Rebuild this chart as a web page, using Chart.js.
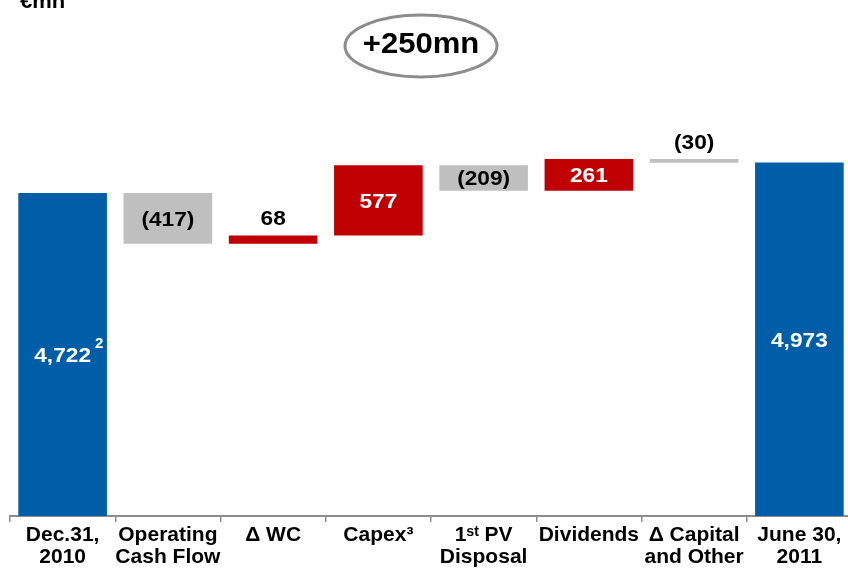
<!DOCTYPE html>
<html>
<head>
<meta charset="utf-8">
<title>Net debt evolution</title>
<script src="https://cdn.jsdelivr.net/npm/chart.js@4/dist/chart.umd.min.js"></script>
<style>
  html, body { margin: 0; padding: 0; overflow: hidden; background: #ffffff; }
  #wrap { width: 852px; height: 572px; }
</style>
</head>
<body>
<div id="wrap"><canvas id="chart" width="852" height="572"></canvas></div>
<script>
// Net debt bridge, €mn
const categories = [
  ["Dec.31,", "2010"],
  ["Operating", "Cash Flow"],
  "Δ WC",
  "Capex³",
  ["1ˢᵗ PV", "Disposal"],
  "Dividends",
  ["Δ Capital", "and Other"],
  ["June 30,", "2011"]
];
const openingNetDebt = 4722;
const closingNetDebt = 4973;
const movements = [-417, 68, 577, -209, 261, -30];
const valueFootnotes = ["2", "", "", "", "", "", "", ""];
const headline = "+250mn";
const unitLabel = "€mn";

const BLUE = "#005EA8";
const RED = "#C00000";
const GREY = "#BFBFBF";
const FONT = "'Liberation Sans', Arial, Helvetica, sans-serif";

const fmt = v => v.toLocaleString("en-US");

// Build floating ranges for the bridge
const ranges = [[0, openingNetDebt]];
const colors = [BLUE];
const valueTexts = [fmt(openingNetDebt)];
let level = openingNetDebt;
movements.forEach(m => {
  const next = level + m;
  ranges.push([Math.min(level, next), Math.max(level, next)]);
  colors.push(m < 0 ? GREY : RED);
  valueTexts.push(m < 0 ? "(" + fmt(-m) + ")" : fmt(m));
  level = next;
});
ranges.push([0, closingNetDebt]);
colors.push(BLUE);
valueTexts.push(fmt(closingNetDebt));

function stretchedText(ctx, text, x, y, sx) {
  ctx.save();
  ctx.translate(x, y);
  ctx.scale(sx, 1);
  ctx.fillText(text, 0, 0);
  ctx.restore();
}

// Value labels: inside tall bars, above thin ones
const valueLabels = {
  id: "valueLabels",
  afterDatasetsDraw(chart) {
    const ctx = chart.ctx;
    const meta = chart.getDatasetMeta(0);
    const sx = 1.08;
    meta.data.forEach((bar, i) => {
      const p = bar.getProps(["x", "y", "base"], true);
      const top = Math.max(Math.min(p.y, p.base), chart.chartArea.top);
      const bottom = Math.min(Math.max(p.y, p.base), chart.chartArea.bottom);
      const h = bottom - top;
      const text = valueTexts[i];
      ctx.save();
      ctx.font = "bold 21px " + FONT;
      const w = ctx.measureText(text).width * sx;
      let y, color;
      if (h < 20) {
        ctx.textBaseline = "alphabetic";
        y = top - 10;
        color = "#000000";
      } else {
        ctx.textBaseline = "middle";
        y = (top + bottom) / 2 + 1.5;
        color = colors[i] === GREY ? "#000000" : "#FFFFFF";
      }
      ctx.fillStyle = color;
      ctx.textAlign = "left";
      const x0 = p.x - w / 2;
      stretchedText(ctx, text, x0, y, sx);
      const sup = valueFootnotes[i];
      if (sup) {
        ctx.font = "bold 14px " + FONT;
        ctx.textBaseline = "alphabetic";
        stretchedText(ctx, sup, x0 + w + 4, y - 8, sx);
      }
      ctx.restore();
    });
  }
};

// Unit caption and headline change bubble
const annotations = {
  id: "annotations",
  afterDraw(chart) {
    const ctx = chart.ctx;
    ctx.save();
    ctx.fillStyle = "#000000";
    ctx.textAlign = "left";
    ctx.textBaseline = "alphabetic";
    ctx.font = "bold 20px " + FONT;
    stretchedText(ctx, unitLabel, 20, 8, 1.1);

    ctx.beginPath();
    ctx.ellipse(421, 46, 76, 31, 0, 0, Math.PI * 2);
    ctx.fillStyle = "#FFFFFF";
    ctx.fill();
    ctx.lineWidth = 3;
    ctx.strokeStyle = "#8C8C8C";
    ctx.stroke();

    ctx.fillStyle = "#000000";
    ctx.font = "bold 29px " + FONT;
    ctx.textBaseline = "middle";
    const w = ctx.measureText(headline).width * 1.07;
    stretchedText(ctx, headline, 421 - w / 2, 45, 1.07);
    ctx.restore();
  }
};

new Chart(document.getElementById("chart"), {
  type: "bar",
  data: {
    labels: categories,
    datasets: [{
      data: ranges,
      backgroundColor: colors,
      borderWidth: 0,
      barPercentage: 0.842,
      categoryPercentage: 1
    }]
  },
  options: {
    responsive: false,
    animation: false,
    devicePixelRatio: 1,
    layout: { padding: { left: 10, right: 0, top: 100, bottom: 0 } },
    plugins: {
      legend: { display: false },
      tooltip: { enabled: false },
      title: { display: false }
    },
    scales: {
      y: {
        display: false,
        min: 2064,
        max: 5488
      },
      x: {
        offset: true,
        grid: {
          offset: true,
          drawOnChartArea: false,
          drawTicks: true,
          tickLength: 6,
          color: "#8C8C8C",
          lineWidth: 1.5
        },
        border: { display: true, color: "#8C8C8C", width: 2 },
        ticks: {
          color: "#000000",
          padding: 2,
          maxRotation: 0,
          minRotation: 0,
          autoSkip: false,
          font: { family: FONT, size: 21, weight: "bold", lineHeight: 1.05 }
        },
        afterFit(scale) { scale.height = 56; }
      }
    }
  },
  plugins: [valueLabels, annotations]
});
</script>
</body>
</html>
